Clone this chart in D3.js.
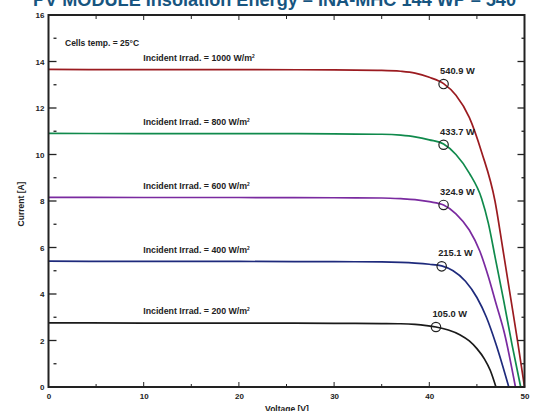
<!DOCTYPE html>
<html>
<head>
<meta charset="utf-8">
<script src="https://cdn.jsdelivr.net/npm/d3@7"></script>
<style>
  html, body { margin: 0; padding: 0; background: #ffffff; }
  svg { display: block; font-family: "Liberation Sans", Arial, sans-serif; }
</style>
</head>
<body>
<svg id="chart" width="539" height="411"></svg>
<script>
// ---- data ----
const irradiances = [1000, 800, 600, 400, 200];
const colors = ["#9b1b20", "#108a4c", "#7a2aa0", "#1e2a7c", "#1a1a1a"];

const volt1000 = [0, 10, 20, 30, 35, 37, 38.5, 40, 41.5, 42.8, 44.2, 45.5, 46.9, 47.7, 48.5, 49.3, 50.0];
const curr1000 = [13.66, 13.65, 13.65, 13.64, 13.62, 13.58, 13.5, 13.32, 13.05, 12.55, 11.6, 10.1, 8.0, 6.0, 3.95, 1.9, 0];

const volt800 = [0, 10, 20, 30, 35, 37, 38.5, 40, 41.5, 42.8, 44.2, 45.5, 46.2, 47.0, 47.8, 48.7, 49.6];
const curr800 = [10.91, 10.9, 10.9, 10.89, 10.87, 10.83, 10.76, 10.63, 10.45, 10.0, 9.2, 8.1, 7.05, 5.4, 3.75, 1.8, 0];

const volt600 = [0, 10, 20, 30, 35, 37, 38.5, 40, 41.5, 42.8, 44.2, 45.3, 46.2, 47.0, 47.9, 49.05];
const curr600 = [8.16, 8.15, 8.15, 8.14, 8.13, 8.1, 8.06, 7.97, 7.83, 7.45, 6.75, 5.85, 4.75, 3.6, 2.3, 0];

const volt400 = [0, 10, 20, 30, 35, 37, 38.5, 40, 41.3, 42.5, 43.8, 45.0, 46.0, 47.0, 48.35];
const curr400 = [5.41, 5.4, 5.4, 5.39, 5.38, 5.36, 5.33, 5.28, 5.21, 5.0, 4.55, 3.85, 3.0, 1.85, 0];

const volt200 = [0, 10, 20, 30, 35, 37, 38.5, 39.7, 40.7, 42.0, 43.2, 44.2, 45.0, 45.8, 46.4, 47.0];
const curr200 = [2.76, 2.75, 2.75, 2.74, 2.73, 2.72, 2.69, 2.64, 2.58, 2.45, 2.25, 1.98, 1.65, 1.2, 0.72, 0];

const mppVolt = [41.5, 41.5, 41.5, 41.3, 40.7];
const mppCurr = [13.03, 10.42, 7.83, 5.19, 2.58];
const mppLabels = ["540.9 W", "433.7 W", "324.9 W", "215.1 W", "105.0 W"];

const xTickLabels = [0, 10, 20, 30, 40, 50];
const yTickLabels = [0, 2, 4, 6, 8, 10, 12, 14, 16];

const titleText = "PV MODULE Insolation Energy \u2013 INA-MHC 144 WP \u2013 540";
const xTitle = "Voltage [V]";
const yTitle = "Current [A]";
const tempNote = "Cells temp. = 25\u00b0C";

// ---- build ----
(function () {
const series = [
  { v: volt1000, i: curr1000 },
  { v: volt800, i: curr800 },
  { v: volt600, i: curr600 },
  { v: volt400, i: curr400 },
  { v: volt200, i: curr200 }
].map((s, k) => ({
  irr: irradiances[k],
  color: colors[k],
  pts: s.v.map((d, j) => [d, s.i[j]]),
  isc: s.i[0],
  mpp: [mppVolt[k], mppCurr[k]],
  label: mppLabels[k]
}));

const svg = d3.select("#chart");
const pL = 48.5, pR = 524.5, pT = 15, pB = 387;
const x = d3.scaleLinear().domain([0, 50]).range([pL, pR]);
const y = d3.scaleLinear().domain([0, 16]).range([pB, pT]);

// title
svg.append("text")
  .attr("x", 33).attr("y", 6)
  .attr("fill", "#175580")
  .attr("font-size", 18).attr("font-weight", "bold")
  .attr("textLength", 483).attr("lengthAdjust", "spacingAndGlyphs")
  .text(titleText);

// curves
const line = d3.line().x(d => x(d[0])).y(d => y(d[1])).curve(d3.curveMonotoneX);
const g = svg.append("g");
series.forEach(s => {
  g.append("path")
    .attr("d", line(s.pts))
    .attr("fill", "none")
    .attr("stroke", s.color)
    .attr("stroke-width", 1.7);
});

// frame
const tickColor = "#222";
svg.append("rect")
  .attr("x", pL).attr("y", pT)
  .attr("width", pR - pL).attr("height", pB - pT)
  .attr("fill", "none").attr("stroke", tickColor).attr("stroke-width", 2);

// bottom axis labels
const xAxis = d3.axisBottom(x).tickValues(xTickLabels).tickSize(0).tickPadding(6).tickFormat(d3.format("d"));
const xa = svg.append("g").attr("transform", `translate(0,${pB})`).call(xAxis);
xa.select(".domain").remove();
xa.selectAll("text").attr("font-size", 8).attr("font-weight", "bold").attr("fill", "#222")
  .attr("font-family", "Liberation Sans, Arial, sans-serif");

d3.range(0, 51, 5).forEach(v => {
  const major = v % 10 === 0;
  svg.append("line").attr("x1", x(v)).attr("x2", x(v))
    .attr("y1", pB).attr("y2", pB - (major ? 5 : 3))
    .attr("stroke", tickColor).attr("stroke-width", 1);
  svg.append("line").attr("x1", x(v)).attr("x2", x(v))
    .attr("y1", pT).attr("y2", pT + (major ? 5 : 4))
    .attr("stroke", tickColor).attr("stroke-width", 1);
});

// left axis labels
const yAxis = d3.axisLeft(y).tickValues(yTickLabels).tickSize(0).tickPadding(4).tickFormat(d3.format("d"));
const ya = svg.append("g").attr("transform", `translate(${pL},0)`).call(yAxis);
ya.select(".domain").remove();
ya.selectAll("text").attr("font-size", 8).attr("font-weight", "bold").attr("fill", "#222")
  .attr("font-family", "Liberation Sans, Arial, sans-serif");

d3.range(0, 17, 1).forEach(v => {
  const major = v % 2 === 0;
  if (v > 0 && v < 16) {
    svg.append("line")
      .attr("x1", major ? pL : pL + 5).attr("x2", pL + 8)
      .attr("y1", y(v)).attr("y2", y(v))
      .attr("stroke", tickColor).attr("stroke-width", 1.3);
    svg.append("line")
      .attr("x1", pR).attr("x2", pR - (major ? 7 : 3))
      .attr("y1", y(v)).attr("y2", y(v))
      .attr("stroke", tickColor).attr("stroke-width", 1.3);
  }
});

// axis titles
svg.append("text")
  .attr("x", (pL + pR) / 2 + 0.5).attr("y", 411.5)
  .attr("text-anchor", "middle").attr("font-size", 8.5).attr("font-weight", "bold").attr("fill", "#222")
  .text(xTitle);
svg.append("text")
  .attr("transform", `translate(23.5,${(pT + pB) / 2 + 3}) rotate(-90)`)
  .attr("text-anchor", "middle").attr("font-size", 8.5).attr("font-weight", "bold").attr("fill", "#222")
  .text(yTitle);

// temperature note
svg.append("text")
  .attr("x", 65).attr("y", 45.5)
  .attr("font-size", 8.5).attr("font-weight", "bold").attr("fill", "#222")
  .text(tempNote);

// irradiance labels
series.forEach(s => {
  const t = svg.append("text")
    .attr("x", x(10) - 0.5).attr("y", y(s.isc) - 8.5)
    .attr("font-size", 8.8).attr("font-weight", "bold").attr("fill", "#222");
  t.append("tspan").text(`Incident Irrad. = ${s.irr} W/m`);
  t.append("tspan").attr("font-size", 4.8).attr("dy", -3.2).text("2");
});

// MPP markers
series.forEach(s => {
  svg.append("circle")
    .attr("cx", x(s.mpp[0])).attr("cy", y(s.mpp[1])).attr("r", 4.7)
    .attr("fill", "none").attr("stroke", "#222").attr("stroke-width", 1.2);
  svg.append("text")
    .attr("x", x(s.mpp[0]) - 3.5).attr("y", y(s.mpp[1]) - 10)
    .attr("font-size", 9.3).attr("font-weight", "bold").attr("fill", "#222")
    .text(s.label);
});
})();
</script>
</body>
</html>
